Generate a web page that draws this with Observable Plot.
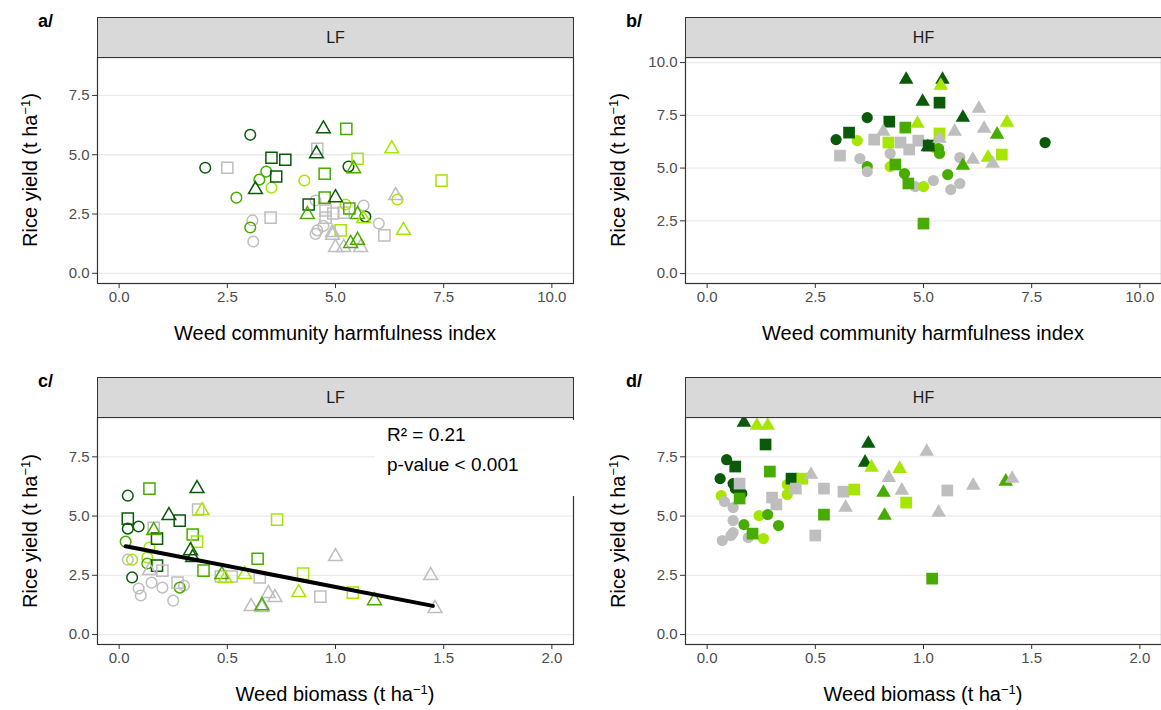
<!DOCTYPE html>
<html><head><meta charset="utf-8">
<script src="https://cdn.jsdelivr.net/npm/d3@7"></script>
<script src="https://cdn.jsdelivr.net/npm/@observablehq/plot@0.6"></script>
<style>
body{margin:0;background:#fff;}
#root{position:relative;width:1161px;height:710px;font-family:"Liberation Sans",Arial,sans-serif;overflow:hidden;background:#fff;}
.strip{position:absolute;background:#d9d9d9;border:1px solid #333;box-sizing:border-box;display:flex;align-items:center;justify-content:center;font-size:16px;color:#1a1a1a;}
.tag{position:absolute;font-weight:bold;font-size:18px;color:#000;}
.xt{position:absolute;font-size:20px;transform:translate(-50%,-50%);white-space:nowrap;color:#000;}
.yt{position:absolute;font-size:20px;transform:translate(-50%,-50%) rotate(-90deg);white-space:nowrap;color:#000;}
.note{position:absolute;background:#fff;font-size:19px;color:#000;line-height:30px;padding-left:12px;box-sizing:border-box;}
sup{font-size:65%;}
</style></head><body><div id="root"></div>
<script>
// groups: g1 dark green, g2 medium green, g3 light green, g4 grey ; shapes: circle, square, triangle
const groups = ["g1","g2","g3","g4"];
const groupColors = ["#0a5a0a","#48ab00","#a6e600","#bebebe"];
const shapes = ["circle","square","triangle"];
const facets = ["LF","HF"];
const yieldTicks = [0, 2.5, 5, 7.5];
const yieldTicksHF = [0, 2.5, 5, 7.5, 10];
const indexTicks = [0, 2.5, 5, 7.5, 10];
const biomassTicks = [0, 0.5, 1, 1.5, 2];

// a/ LF : [harmfulness index, yield, group, shape]
const lfIndex = [
[3.03,5.84,"g1","circle"],[1.99,4.45,"g1","circle"],[2.50,4.45,"g4","square"],[4.72,6.09,"g1","triangle"],
[4.58,5.25,"g4","square"],[4.56,5.04,"g1","triangle"],[3.52,4.87,"g1","square"],[3.84,4.79,"g1","square"],
[3.40,4.29,"g2","circle"],[3.63,4.08,"g1","square"],[3.24,3.95,"g2","circle"],[3.52,3.61,"g3","circle"],
[3.15,3.53,"g1","triangle"],[2.71,3.19,"g2","circle"],[4.28,3.91,"g3","circle"],[4.75,4.20,"g2","square"],
[4.75,3.19,"g2","square"],[5.00,3.19,"g1","triangle"],[4.38,2.90,"g1","square"],[4.35,2.48,"g2","triangle"],
[3.08,2.23,"g4","circle"],[3.50,2.35,"g4","square"],[3.03,1.93,"g2","circle"],[3.10,1.34,"g4","circle"],
[4.58,1.81,"g4","circle"],[4.54,1.66,"g4","circle"],[5.25,6.09,"g2","square"],[6.30,5.25,"g3","triangle"],
[5.51,4.83,"g3","square"],[5.30,4.50,"g1","circle"],[5.42,4.41,"g2","triangle"],[7.45,3.91,"g3","square"],
[6.39,3.28,"g4","triangle"],[6.43,3.11,"g3","circle"],[4.54,3.07,"g4","circle"],[4.77,2.65,"g4","square"],
[4.77,2.35,"g4","square"],[4.95,2.52,"g4","square"],[5.19,2.56,"g4","square"],[4.72,2.00,"g4","circle"],
[5.23,2.90,"g3","circle"],[5.32,2.73,"g2","square"],[5.65,2.86,"g4","circle"],[5.51,2.48,"g2","triangle"],
[5.65,2.31,"g3","triangle"],[5.69,2.39,"g1","circle"],[6.00,2.10,"g4","circle"],[6.13,1.60,"g4","square"],
[6.57,1.81,"g3","triangle"],[5.12,1.81,"g3","square"],[4.93,1.60,"g4","triangle"],[5.00,1.09,"g4","triangle"],
[5.19,1.09,"g4","triangle"],[5.58,1.09,"g4","triangle"],[5.35,1.26,"g2","triangle"],[5.51,1.39,"g2","triangle"],
[4.93,1.72,"g4","triangle"]
];

// b/ HF : [harmfulness index, yield, group, shape]
const hfIndex = [
[4.60,9.19,"g1","triangle"],[5.44,9.19,"g1","triangle"],[5.40,8.91,"g3","triangle"],[4.98,8.15,"g1","triangle"],
[5.37,8.10,"g1","square"],[3.70,7.39,"g1","circle"],[4.21,7.20,"g1","square"],[6.28,7.82,"g4","triangle"],
[5.91,7.39,"g1","triangle"],[6.93,7.16,"g3","triangle"],[4.86,7.11,"g3","triangle"],[4.58,6.92,"g2","square"],
[4.07,6.73,"g4","triangle"],[5.72,6.73,"g4","triangle"],[6.40,6.87,"g4","triangle"],[3.28,6.68,"g1","square"],
[6.70,6.59,"g2","triangle"],[5.37,6.64,"g3","square"],[5.37,6.40,"g4","triangle"],[2.98,6.35,"g1","circle"],
[3.47,6.30,"g3","circle"],[3.86,6.35,"g4","square"],[4.19,6.21,"g3","square"],[4.47,6.21,"g4","square"],
[4.88,6.30,"g4","square"],[4.67,5.88,"g4","square"],[5.12,6.07,"g1","square"],[5.10,6.00,"g1","triangle"],
[5.26,5.97,"g3","circle"],[5.35,5.92,"g2","circle"],[5.37,5.69,"g2","circle"],[7.81,6.21,"g1","circle"],
[3.07,5.59,"g4","square"],[3.53,5.45,"g4","circle"],[4.23,5.69,"g4","circle"],[5.84,5.50,"g4","circle"],
[6.14,5.40,"g4","triangle"],[6.49,5.50,"g3","triangle"],[6.81,5.64,"g3","square"],[6.60,5.21,"g4","triangle"],
[5.91,5.12,"g2","triangle"],[3.70,5.07,"g2","circle"],[3.70,4.83,"g4","circle"],[4.23,5.07,"g3","circle"],
[4.35,5.17,"g2","square"],[4.56,4.74,"g2","circle"],[4.65,4.27,"g2","square"],[4.81,4.12,"g4","circle"],
[5.23,4.41,"g4","circle"],[5.00,4.12,"g3","circle"],[5.56,4.69,"g2","circle"],[5.63,3.98,"g4","circle"],
[5.84,4.27,"g4","circle"],[5.00,2.37,"g2","square"]
];

// c/ LF : [weed biomass, yield, group, shape]
const lfBiomass = [
[0.04,5.86,"g1","circle"],[0.14,6.16,"g2","square"],[0.36,6.16,"g1","triangle"],[0.365,5.27,"g4","square"],
[0.383,5.23,"g3","triangle"],[0.04,4.89,"g1","square"],[0.04,4.47,"g1","circle"],[0.09,4.56,"g1","circle"],
[0.23,5.02,"g1","triangle"],[0.28,4.81,"g1","square"],[0.73,4.85,"g3","square"],[0.16,4.51,"g4","square"],
[0.16,4.39,"g2","triangle"],[0.175,4.05,"g1","square"],[0.34,4.22,"g2","square"],[0.36,3.92,"g3","square"],
[0.03,3.92,"g2","circle"],[0.14,3.67,"g3","circle"],[0.33,3.54,"g1","triangle"],[0.34,3.25,"g1","triangle"],
[0.04,3.16,"g4","circle"],[0.06,3.16,"g3","circle"],[0.13,3.25,"g3","circle"],[0.13,3.00,"g2","circle"],
[0.175,2.91,"g1","square"],[0.14,2.70,"g4","triangle"],[0.20,2.70,"g4","square"],[0.06,2.41,"g1","circle"],
[0.39,2.70,"g2","square"],[0.64,3.20,"g2","square"],[0.09,1.94,"g4","circle"],[0.10,1.65,"g4","circle"],
[0.15,2.19,"g4","circle"],[0.20,1.98,"g4","circle"],[0.25,1.43,"g4","circle"],[0.30,2.07,"g4","circle"],
[0.28,1.98,"g2","circle"],[0.27,2.19,"g4","square"],[0.475,2.53,"g2","triangle"],[0.47,2.45,"g4","square"],
[0.49,2.36,"g3","triangle"],[0.52,2.45,"g4","square"],[0.58,2.53,"g3","triangle"],[0.65,2.41,"g4","square"],
[0.61,1.18,"g4","triangle"],[0.66,1.14,"g4","triangle"],[0.69,1.73,"g4","triangle"],[0.72,1.56,"g4","triangle"],
[0.66,1.22,"g2","triangle"],[0.85,2.57,"g3","square"],[0.83,1.77,"g3","triangle"],[0.93,1.60,"g4","square"],
[1.00,3.29,"g4","triangle"],[1.44,2.49,"g4","triangle"],[1.08,1.77,"g3","square"],[1.18,1.43,"g2","triangle"],
[1.46,1.10,"g4","triangle"]
];
// c/ fitted regression line (end points)
const lfFitBiomass = [0.03, 1.45];
const lfFitYield = [3.73, 1.21];
const lfStats = ["R² = 0.21", "p-value < 0.001"];

// d/ HF : [weed biomass, yield, group, shape]
const hfBiomass = [
[0.17,8.95,"g1","triangle"],[0.23,8.82,"g3","triangle"],[0.28,8.82,"g3","triangle"],[0.27,8.02,"g1","square"],
[0.09,7.38,"g1","circle"],[0.13,7.09,"g1","square"],[0.29,6.88,"g2","square"],[0.06,6.58,"g1","circle"],
[0.12,6.37,"g1","circle"],[0.13,6.16,"g1","circle"],[0.16,5.95,"g1","circle"],[0.15,6.37,"g4","square"],
[0.39,6.58,"g1","square"],[0.44,6.58,"g3","square"],[0.48,6.75,"g4","triangle"],[0.37,6.33,"g3","circle"],
[0.37,5.91,"g3","circle"],[0.41,6.16,"g4","square"],[0.54,6.16,"g4","square"],[0.63,6.03,"g4","square"],
[0.68,6.12,"g3","square"],[0.065,5.86,"g3","circle"],[0.15,5.74,"g2","square"],[0.08,5.61,"g4","circle"],
[0.12,5.36,"g4","circle"],[0.30,5.78,"g4","square"],[0.32,5.49,"g4","square"],[0.64,5.36,"g4","triangle"],
[0.24,5.02,"g3","circle"],[0.28,5.06,"g2","circle"],[0.54,5.06,"g2","square"],[0.12,4.81,"g4","circle"],
[0.17,4.64,"g2","circle"],[0.33,4.60,"g2","circle"],[0.12,4.30,"g4","circle"],[0.11,4.18,"g4","circle"],
[0.07,3.97,"g4","circle"],[0.21,4.26,"g2","square"],[0.19,4.09,"g4","circle"],[0.26,4.05,"g3","circle"],
[0.50,4.18,"g4","square"],[0.745,8.06,"g1","triangle"],[1.015,7.72,"g4","triangle"],[0.73,7.26,"g1","triangle"],
[0.76,7.05,"g3","triangle"],[0.89,7.00,"g3","triangle"],[0.84,6.62,"g4","triangle"],[0.815,5.99,"g2","triangle"],
[0.90,6.08,"g4","triangle"],[1.11,6.08,"g4","square"],[1.23,6.29,"g4","triangle"],[1.38,6.46,"g2","triangle"],
[1.41,6.58,"g4","triangle"],[0.92,5.57,"g3","square"],[0.82,5.02,"g2","triangle"],[1.07,5.15,"g4","triangle"],
[1.04,2.36,"g2","square"]
];

const root = document.getElementById("root");
const fmt = d3.format(".1f");
const symR = {circle: 5.6, square: 6.6, triangle: 5.4};

function el(cls, html, style){
  const d = document.createElement("div");
  d.className = cls; d.innerHTML = html;
  Object.assign(d.style, style);
  root.appendChild(d);
  return d;
}

function panel(cfg){
  const W = 476, H = cfg.H;
  const mL = 52, mR = 6, mT = 2, mB = 30;
  const rows = cfg.data.map(([x, y, g, s]) => ({x, y, g, s}));
  const marks = [
    Plot.gridY(cfg.yTicks, {stroke: "#ebebeb", strokeOpacity: 1, strokeWidth: 1.3}),
    Plot.axisX(cfg.xTicks, {tickSize: 5, tickPadding: 3, tickFormat: fmt, fontSize: 15, stroke: "#333", fill: "#4d4d4d", label: null}),
    Plot.axisY(cfg.yTicks, {tickSize: 5, tickPadding: 3, tickFormat: fmt, fontSize: 15, stroke: "#333", fill: "#4d4d4d", label: null})
  ];
  for (const s of shapes) {
    const sub = rows.filter(d => d.s === s);
    marks.push(cfg.filled
      ? Plot.dot(sub, {x: "x", y: "y", symbol: s, r: symR[s], fill: "g", stroke: "none"})
      : Plot.dot(sub, {x: "x", y: "y", symbol: s, r: symR[s] * 0.95, stroke: "g", fill: "none", strokeWidth: 1.5}));
  }
  if (cfg.fit) {
    const fitRows = cfg.fit[0].map((x, i) => ({x, y: cfg.fit[1][i]}));
    marks.push(Plot.line(fitRows, {x: "x", y: "y", stroke: "black", strokeWidth: 4}));
  }
  marks.push(Plot.frame({stroke: "#333", strokeWidth: 1.2}));
  const svg = Plot.plot({
    width: mL + W + mR, height: mT + H + mB,
    marginLeft: mL, marginRight: mR, marginTop: mT, marginBottom: mB,
    style: {background: "transparent", fontFamily: "Liberation Sans, Arial, sans-serif", overflow: "visible"},
    x: {domain: cfg.xDomain, label: null},
    y: {domain: cfg.yDomain, label: null},
    color: {domain: groups, range: groupColors},
    marks
  });
  svg.style.position = "absolute";
  svg.style.left = (cfg.left - mL) + "px";
  svg.style.top = (cfg.top - mT) + "px";
  root.appendChild(svg);
  // strip
  el("strip", cfg.facet, {left: cfg.left + "px", top: (cfg.top - 40) + "px", width: (W + 1) + "px", height: "41px"});
  el("tag", cfg.tag, {left: (cfg.left - 59) + "px", top: (cfg.top - 46) + "px"});
  el("yt", "Rice yield (t ha<sup>\u22121</sup>)", {left: (cfg.left - 67) + "px", top: (cfg.top + H / 2) + "px"});
  el("xt", cfg.xTitle, {left: (cfg.left + W / 2) + "px", top: (cfg.top + H + 50) + "px"});
}

panel({data: lfIndex, left: 97, top: 57, H: 226, xDomain: [-0.5, 10.5], yDomain: [-0.43, 9.1],
  xTicks: indexTicks, yTicks: yieldTicks, facet: facets[0], tag: "a/", xTitle: "Weed community harmfulness index", filled: false});
panel({data: hfIndex, left: 685, top: 57, H: 226, xDomain: [-0.5, 10.5], yDomain: [-0.47, 10.24],
  xTicks: indexTicks, yTicks: yieldTicksHF, facet: facets[1], tag: "b/", xTitle: "Weed community harmfulness index", filled: true});
panel({data: lfBiomass, left: 97, top: 417, H: 227, xDomain: [-0.1, 2.1], yDomain: [-0.42, 9.16],
  xTicks: biomassTicks, yTicks: yieldTicks, facet: facets[0], tag: "c/", xTitle: "Weed biomass (t ha<sup>\u22121</sup>)", filled: false,
  fit: [lfFitBiomass, lfFitYield]});
panel({data: hfBiomass, left: 685, top: 417, H: 227, xDomain: [-0.1, 2.1], yDomain: [-0.42, 9.16],
  xTicks: biomassTicks, yTicks: yieldTicks, facet: facets[1], tag: "d/", xTitle: "Weed biomass (t ha<sup>\u22121</sup>)", filled: true});

el("note", lfStats.join("<br>"), {left: "375px", top: "420px", width: "200px", height: "76px"});
</script></body></html>
